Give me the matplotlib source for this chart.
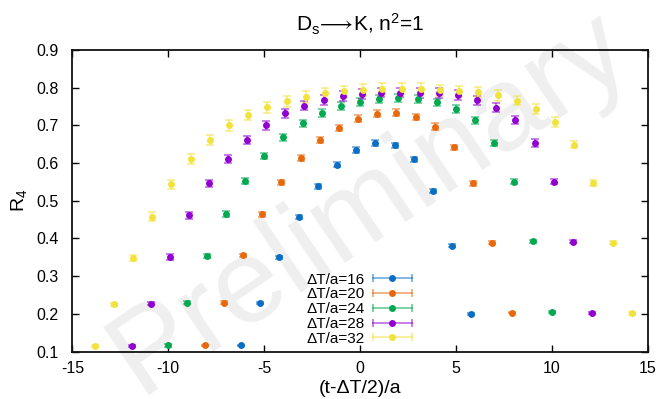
import numpy as np
import matplotlib
matplotlib.use("Agg")
import matplotlib.pyplot as plt
from matplotlib.lines import Line2D
from matplotlib.legend_handler import HandlerBase

plt.rcParams['font.family'] = ['Liberation Sans', 'DejaVu Sans']
plt.rcParams['mathtext.fontset'] = 'custom'
plt.rcParams['mathtext.rm'] = 'Liberation Sans'
plt.rcParams['mathtext.it'] = 'Liberation Sans:italic'
plt.rcParams['mathtext.fallback'] = 'stixsans'
plt.rcParams['axes.unicode_minus'] = False

# ---- data ----
labels = ["ΔT/a=16", "ΔT/a=20", "ΔT/a=24", "ΔT/a=28", "ΔT/a=32"]
colors = ["#0a6fc4", "#e8690c", "#00a94f", "#9000d0", "#f2e23c"]

x16 = list(range(-6, 7))
y16 = [0.116, 0.228, 0.350, 0.457, 0.538, 0.596, 0.635, 0.653, 0.647, 0.610, 0.526, 0.380, 0.199]
e16 = [0.002, 0.003, 0.004, 0.005, 0.006, 0.006, 0.007, 0.007, 0.007, 0.006, 0.006, 0.004, 0.002]

x20 = list(range(-8, 9))
y20 = [0.116, 0.230, 0.355, 0.464, 0.549, 0.613, 0.662, 0.694, 0.718, 0.731, 0.734, 0.723, 0.697,
       0.642, 0.546, 0.389, 0.203]
e20 = [0.002, 0.003, 0.005, 0.006, 0.007, 0.008, 0.008, 0.008, 0.009, 0.009, 0.009, 0.008, 0.008,
       0.007, 0.006, 0.004, 0.002]

x24 = list(range(-10, 11))
y24 = [0.116, 0.230, 0.354, 0.465, 0.552, 0.619, 0.668, 0.705, 0.733, 0.751, 0.762, 0.770, 0.773,
       0.770, 0.761, 0.744, 0.713, 0.653, 0.551, 0.393, 0.204]
e24 = [0.003, 0.004, 0.006, 0.007, 0.008, 0.009, 0.009, 0.010, 0.010, 0.010, 0.010, 0.010, 0.010,
       0.010, 0.010, 0.010, 0.009, 0.008, 0.006, 0.004, 0.003]

x28 = list(range(-12, 13))
y28 = [0.114, 0.227, 0.351, 0.461, 0.546, 0.611, 0.662, 0.700, 0.732, 0.752, 0.768, 0.778, 0.783,
       0.787, 0.787, 0.785, 0.786, 0.780, 0.767, 0.747, 0.714, 0.653, 0.551, 0.391, 0.202]
e28 = [0.003, 0.004, 0.007, 0.009, 0.010, 0.011, 0.011, 0.012, 0.012, 0.012, 0.013, 0.013, 0.013,
       0.013, 0.013, 0.013, 0.013, 0.013, 0.012, 0.012, 0.011, 0.010, 0.007, 0.004, 0.003]

x32 = list(range(-14, 15))
y32 = [0.114, 0.225, 0.349, 0.458, 0.544, 0.610, 0.662, 0.700, 0.728, 0.748, 0.764, 0.775, 0.785,
       0.790, 0.794, 0.797, 0.797, 0.797, 0.793, 0.790, 0.789, 0.780, 0.766, 0.744, 0.709, 0.649,
       0.548, 0.389, 0.201]
e32 = [0.003, 0.005, 0.008, 0.011, 0.012, 0.013, 0.013, 0.014, 0.014, 0.014, 0.015, 0.015, 0.015,
       0.015, 0.015, 0.015, 0.015, 0.015, 0.015, 0.015, 0.014, 0.014, 0.013, 0.013, 0.012, 0.010,
       0.008, 0.005, 0.003]

xs = [x16, x20, x24, x28, x32]
ys = [y16, y20, y24, y28, y32]
es = [e16, e20, e24, e28, e32]
offsets = [-0.2, -0.1, 0.0, 0.1, 0.17]   # horizontal jitter for visibility

xticks = [-15, -10, -5, 0, 5, 10, 15]
yticks = [0.1, 0.2, 0.3, 0.4, 0.5, 0.6, 0.7, 0.8, 0.9]

# ---- figure ----
fig = plt.figure(figsize=(6.61, 3.99), dpi=100)
ax = fig.add_axes([0.1094, 0.119, 0.8706, 0.7557])
ax.set_facecolor("none")

# watermark (behind data and legend)
ax.text(0.56, 0.49, "Preliminary", fontsize=86, color="#efefef", rotation=34,
        ha="center", va="center", zorder=0.5, clip_on=False,
        transform=fig.transFigure)

handles = []
for x, y, e, c, off, lab in zip(xs, ys, es, colors, offsets, labels):
    xx = np.array(x, dtype=float) + off
    ax.errorbar(xx, y, yerr=e, fmt='none', ecolor=c, alpha=0.5, elinewidth=1.4,
                capsize=2.6, capthick=1.4, zorder=2)
    ax.plot(xx, y, 'o', color=c, ms=5.0, mew=0, zorder=3)
    handles.append(Line2D([], [], color=c, label=lab))


class ErrHandler(HandlerBase):
    def create_artists(self, legend, orig_handle, xdescent, ydescent, width, height,
                       fontsize, trans):
        c = orig_handle.get_color()
        y = height / 2 - ydescent
        x0, x1 = -xdescent, width - xdescent
        line = Line2D([x0, x1], [y, y], color=c, alpha=0.5, lw=1.4, transform=trans)
        caps = Line2D([x0, x1], [y, y], ls='none', marker='|', ms=6, mew=1.4,
                      mec=c, alpha=0.5, transform=trans)
        dot = Line2D([(x0 + x1) / 2], [y], ls='none', marker='o', ms=5.0, mew=0,
                     color=c, transform=trans)
        return [line, caps, dot]


leg = ax.legend(handles=handles, handler_map={Line2D: ErrHandler()}, loc='upper left',
                bbox_to_anchor=(0.394, 0.287), frameon=False, fontsize=11,
                markerfirst=False, handlelength=2.6, handletextpad=0.5,
                labelspacing=0.05, borderpad=0)
leg.set_zorder(5)

ax.set_xlim(-15, 15)
ax.set_ylim(0.1, 0.9)
ax.set_xticks(xticks)
ax.set_xticklabels([str(t) for t in xticks])
ax.set_yticks(yticks)
ax.set_yticklabels([f"{t:.1f}" for t in yticks])
ax.tick_params(direction='in', top=True, right=True, length=5, width=1.0,
               labelsize=11.5, colors='black')
ax.tick_params(axis='y', pad=10)
ax.tick_params(axis='x', pad=7)
for s in ax.spines.values():
    s.set_linewidth(1.3)
    s.set_color('#111111')

ax.set_xlabel("(t-ΔT/2)/a", fontsize=14, labelpad=3)
ax.set_ylabel(r"R$_4$", fontsize=14, labelpad=5)
ax.set_title(r"D$_{\rm s}\!\longrightarrow\!$K, n$^{2}$=1", fontsize=15, pad=13)

fig.savefig("out.png", dpi=100)
